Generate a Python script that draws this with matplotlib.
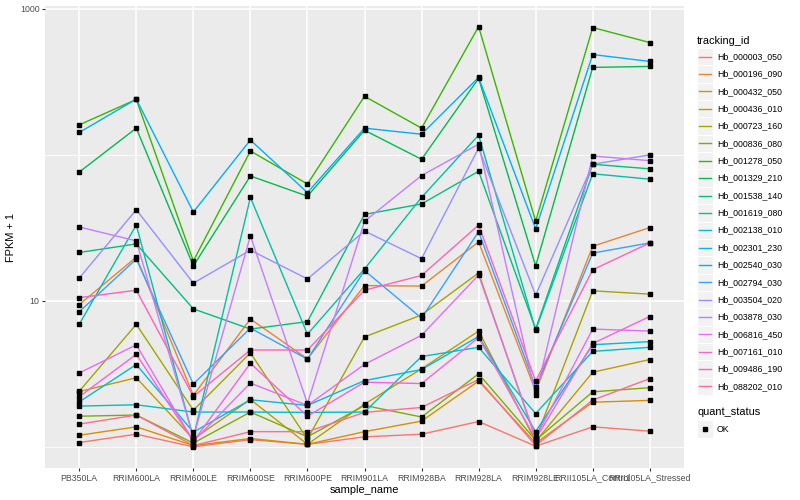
import matplotlib
matplotlib.use("Agg")
import matplotlib.pyplot as plt
from matplotlib.patches import Rectangle
from matplotlib.lines import Line2D
from matplotlib.ticker import NullFormatter

plt.rcParams['font.family'] = ['Liberation Sans', 'DejaVu Sans']

# sample order on the x axis
samples = ['PB350LA', 'RRIM600LA', 'RRIM600LE', 'RRIM600SE', 'RRIM600PE', 'RRIM901LA',
           'RRIM928BA', 'RRIM928LA', 'RRIM928LE', 'RRII105LA_Control', 'RRII105LA_Stressed']

# FPKM + 1 per gene, one value per sample
hb_000003_050 = [1.07, 1.22, 1.0, 1.12, 1.04, 1.17, 1.22, 1.49, 1.01, 1.37, 1.28]
hb_000196_090 = [9.4, 19.9, 2.25, 7.5, 4.0, 12.7, 12.6, 25.3, 2.4, 23.6, 31.7]
hb_000432_050 = [1.20, 1.37, 1.02, 1.14, 1.04, 1.27, 1.50, 2.82, 1.06, 2.02, 2.08]
hb_000436_010 = [2.39, 2.97, 1.13, 2.11, 1.04, 1.96, 3.42, 6.2, 1.09, 3.24, 3.96]
hb_000723_160 = [2.40, 6.9, 1.78, 4.4, 1.13, 5.65, 8.0, 15.5, 1.13, 11.7, 11.1]
hb_000836_080 = [1.62, 1.65, 1.06, 1.73, 1.17, 1.92, 1.60, 3.16, 1.11, 2.38, 2.54]
hb_001278_050 = [160, 239, 18.7, 106, 63, 251, 152, 753, 35, 742, 586]
hb_001329_210 = [76, 152, 17.3, 71.5, 52, 147, 93, 333, 17.3, 396, 402]
hb_001538_140 = [21.4, 24.5, 8.8, 6.4, 7.2, 39, 46, 77, 6.4, 86, 80]
hb_001619_080 = [6.9, 33, 1.15, 51, 5.9, 16.5, 51, 136, 6.3, 74, 68]
hb_002138_010 = [1.90, 1.94, 1.73, 1.73, 1.72, 1.73, 4.15, 4.8, 1.69, 4.5, 4.8]
hb_002301_230 = [2.03, 3.66, 1.26, 2.10, 1.92, 2.84, 3.38, 5.7, 1.27, 5.0, 5.25]
hb_002540_030 = [142, 240, 40.5, 126, 55, 152, 138, 338, 31, 485, 435]
hb_002794_030 = [8.4, 19.3, 2.69, 6.5, 3.98, 16.1, 7.6, 29.7, 2.56, 21.2, 24.9]
hb_003504_020 = [14.3, 42, 13.2, 22.2, 14.1, 30, 19.4, 111, 10.9, 86, 99.7]
hb_003878_030 = [32, 25.7, 1.16, 27.8, 1.98, 35, 72, 118, 2.25, 98, 91]
hb_006816_450 = [3.2, 4.99, 1.09, 2.73, 1.92, 3.67, 5.8, 15.0, 1.16, 6.4, 6.2]
hb_007161_010 = [2.20, 4.3, 1.09, 3.73, 1.62, 2.77, 2.71, 5.6, 1.13, 5.1, 7.8]
hb_009486_190 = [10.5, 11.8, 2.21, 4.6, 4.6, 11.8, 14.9, 33, 2.82, 16.3, 24.9]
hb_088202_010 = [1.43, 1.65, 1.02, 1.27, 1.27, 1.72, 1.86, 2.89, 1.02, 2.09, 2.93]

genes = ['Hb_000003_050', 'Hb_000196_090', 'Hb_000432_050', 'Hb_000436_010', 'Hb_000723_160',
         'Hb_000836_080', 'Hb_001278_050', 'Hb_001329_210', 'Hb_001538_140', 'Hb_001619_080',
         'Hb_002138_010', 'Hb_002301_230', 'Hb_002540_030', 'Hb_002794_030', 'Hb_003504_020',
         'Hb_003878_030', 'Hb_006816_450', 'Hb_007161_010', 'Hb_009486_190', 'Hb_088202_010']
series = [hb_000003_050, hb_000196_090, hb_000432_050, hb_000436_010, hb_000723_160,
          hb_000836_080, hb_001278_050, hb_001329_210, hb_001538_140, hb_001619_080,
          hb_002138_010, hb_002301_230, hb_002540_030, hb_002794_030, hb_003504_020,
          hb_003878_030, hb_006816_450, hb_007161_010, hb_009486_190, hb_088202_010]

# ggplot default hue palette for 20 levels
colors = ['#F8766D', '#EA8331', '#D89000', '#C09B00', '#A3A500', '#7CAE00', '#39B600',
          '#00BB4E', '#00BF7D', '#00C1A3', '#00BFC4', '#00BAE0', '#00B0F6', '#35A2FF',
          '#9590FF', '#C77CFF', '#E76BF3', '#FA62DB', '#FF62BC', '#FF6C91']

W, H = 800, 500
fig = plt.figure(figsize=(8, 5), dpi=100)
ax = fig.add_axes([45 / W, 1 - 468 / H, (684 - 45) / W, (468 - 6) / H])
ax.set_facecolor('#EBEBEB')
for sp in ax.spines.values():
    sp.set_visible(False)

xs = list(range(len(samples)))
for vals, c in zip(series, colors):
    ax.plot(xs, vals, color=c, lw=1.0, zorder=2)
for vals in series:
    ax.plot(xs, vals, 's', color='black', ms=2.6, zorder=3)

ax.set_yscale('log')
ax.set_xlim(-0.6, 10.6)
ax.set_ylim(10 ** -0.145, 10 ** 3.018)
ax.set_yticks([10, 1000])
ax.set_yticklabels(['10', '1000'])
ax.set_yticks([1, 100], minor=True)
ax.yaxis.set_minor_formatter(NullFormatter())
ax.set_xticks(xs)
ax.set_xticklabels(samples)
ax.tick_params(which='minor', length=0)
ax.tick_params(which='major', length=2.5, width=0.8, color='#333333',
               labelsize=6.3, labelcolor='#4D4D4D', pad=1.5)
ax.set_axisbelow(True)
ax.grid(which='major', color='white', lw=1.1)
ax.grid(which='minor', axis='y', color='white', lw=0.55)
ax.set_xlabel('sample_name', fontsize=7.9, labelpad=2)
ax.set_ylabel('FPKM + 1', fontsize=7.9, labelpad=3)

# legends drawn by hand, ggplot style
def fx(px):
    return px / W

def fy(py):
    return 1 - py / H

fig.text(fx(697), fy(40.7), 'tracking_id', fontsize=7.9, va='center', ha='left')
step = 17.35
for i, (g, c) in enumerate(zip(genes, colors)):
    yc = 56.7 + i * step
    fig.add_artist(Rectangle((fx(697), fy(yc + step / 2)), 16 / W, step / H,
                             facecolor='#F2F2F2', edgecolor='white', lw=0.8,
                             transform=fig.transFigure))
    fig.add_artist(Line2D([fx(699), fx(711)], [fy(yc), fy(yc)], color=c, lw=1.0,
                          transform=fig.transFigure))
    fig.text(fx(717), fy(yc), g, fontsize=6.3, va='center', ha='left')

fig.text(fx(697), fy(412.3), 'quant_status', fontsize=7.9, va='center', ha='left')
fig.add_artist(Rectangle((fx(697), fy(429 + step / 2)), 16 / W, step / H,
                         facecolor='#F2F2F2', edgecolor='white', lw=0.8,
                         transform=fig.transFigure))
fig.add_artist(Line2D([fx(705)], [fy(429)], marker='s', ms=2.6, color='black', lw=0,
                      transform=fig.transFigure))
fig.text(fx(717), fy(429), 'OK', fontsize=6.3, va='center', ha='left')

fig.savefig('out.png', dpi=100)
